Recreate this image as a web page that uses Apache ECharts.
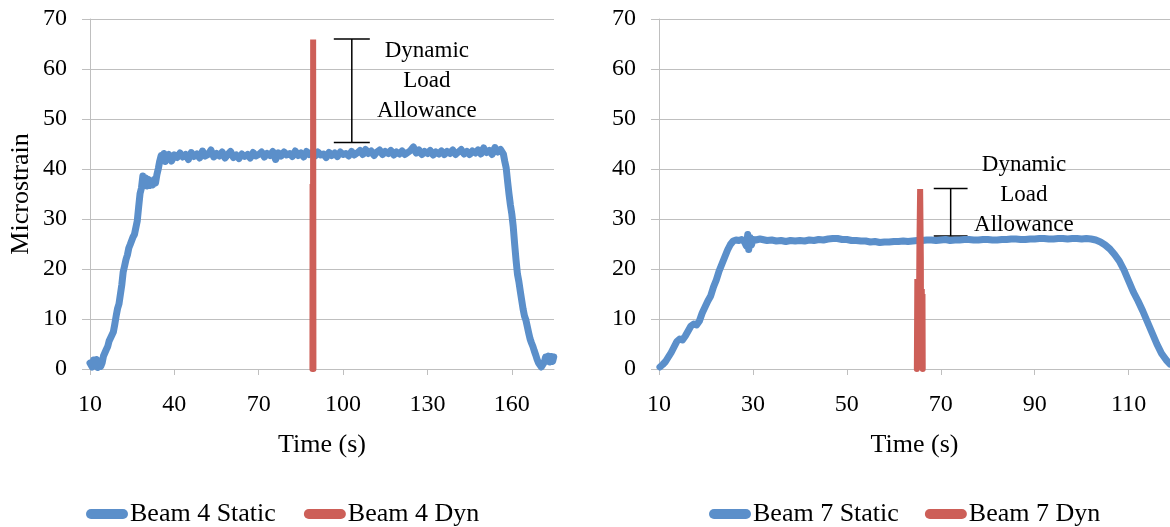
<!DOCTYPE html>
<html>
<head>
<meta charset="utf-8">
<script src="https://cdn.jsdelivr.net/npm/echarts@6/dist/echarts.min.js"></script>
<style>
  html, body { margin: 0; padding: 0; background: #fff; }
  #chart { width: 1170px; height: 527px; }
</style>
</head>
<body>
<div id="chart"></div>
<script>
// time (s), microstrain
var beam4Static = [
  [10.0, 1.2], [10.3, 1.5], [10.8, 0.4], [11.3, 1.8], [11.8, 0.6], [12.3, 1.9], [12.8, 0.3], [13.3, 1.6],
  [13.8, 0.5], [14.3, 1.2], [14.8, 2.6], [15.3, 2.2], [15.8, 3.9], [16.3, 4.5], [16.8, 5.6], [17.3, 6.2],
  [17.8, 6.8], [18.3, 7.4], [18.8, 8.9], [19.3, 10.6], [19.8, 12.1], [20.3, 13.0], [20.8, 14.9], [21.3, 16.8],
  [21.8, 19.4], [22.3, 20.6], [22.8, 21.9], [23.3, 22.8], [23.8, 24.2], [24.3, 24.9], [24.8, 25.3], [25.3, 26.4],
  [25.8, 26.9], [26.3, 27.3], [26.8, 29.6], [27.3, 32.4], [27.8, 35.1], [28.3, 36.2], [28.8, 38.6], [29.3, 37.0],
  [29.8, 38.2], [30.3, 36.6], [30.8, 37.9], [31.3, 36.7], [31.8, 37.6], [32.3, 36.8], [32.8, 37.9], [33.3, 37.2],
  [33.8, 38.9], [34.3, 40.1], [34.8, 41.6], [35.3, 42.7], [35.8, 41.8], [36.3, 43.1], [36.8, 41.5],
  [37, 42.2], [38, 42.9], [39, 41.6], [40, 42.8], [41, 42.3], [42, 43.2], [43, 42.4], [44, 42.9], [45, 41.9],
  [46, 43.3], [47, 42.5], [48, 43.0], [49, 42.2], [50, 43.6], [51, 42.6], [52, 42.9], [53, 43.8], [54, 42.4],
  [55, 43.1], [56, 42.6], [57, 43.4], [58, 42.2], [59, 42.9], [60, 43.5], [61, 42.3], [62, 42.8], [63, 42.1],
  [64, 43.0], [65, 42.5], [66, 42.9], [67, 42.2], [68, 43.3], [69, 42.6], [70, 42.9], [71, 43.4], [72, 42.4],
  [73, 43.1], [74, 42.7], [75, 43.5], [76, 41.9], [77, 43.2], [78, 42.6], [79, 43.4], [80, 42.8], [81, 43.1],
  [82, 42.5], [83, 43.6], [84, 42.7], [85, 43.2], [86, 42.4], [87, 43.5], [88, 42.9], [89, 43.3], [90, 42.6],
  [91, 43.4], [92, 42.8], [93, 43.0], [94, 42.3], [95, 43.3], [96, 42.7], [97, 43.2], [98, 42.5], [99, 43.4],
  [100, 42.9], [101, 43.1], [102, 42.6], [103, 43.5], [104, 42.8], [105, 43.2], [106, 43.7], [107, 42.9],
  [108, 43.9], [109, 43.1], [110, 43.6], [111, 42.7], [112, 43.4], [113, 43.8], [114, 42.9], [115, 43.5],
  [116, 43.1], [117, 43.7], [118, 42.8], [119, 43.4], [120, 43.0], [121, 43.6], [122, 42.9], [123, 43.3],
  [124, 43.7], [125, 44.4], [126, 43.2], [127, 43.8], [128, 42.9], [129, 43.5], [130, 43.1], [131, 43.7],
  [132, 42.8], [133, 43.4], [134, 43.0], [135, 43.6], [136, 42.9], [137, 43.5], [138, 43.1], [139, 43.8],
  [140, 42.9], [141, 43.4], [142, 43.9], [143, 43.0], [144, 43.5], [145, 42.9], [146, 43.6], [147, 43.2],
  [148, 43.8], [149, 43.0], [150, 44.2], [151, 43.3], [152, 43.7], [153, 42.9], [154, 44.3], [155, 43.4],
  [156, 43.9], [156.5, 43.8], [157, 43.0], [157.5, 41.5], [158, 40.2], [158.5, 37.5], [159, 35.0], [159.5, 32.8],
  [160, 31.0], [160.5, 28.5], [161, 25.0], [161.5, 21.8], [162, 19.0], [162.5, 17.5], [163, 15.6], [163.5, 13.8],
  [164, 12.0], [164.5, 10.6], [165, 9.8], [165.5, 8.5], [166, 7.2], [166.5, 6.0], [167, 5.2], [167.5, 4.5],
  [168, 3.6], [168.5, 2.8], [169, 1.9], [169.5, 1.2], [170, 0.9], [170.5, 0.4], [171, 0.6], [171.5, 1.3],
  [172, 2.4], [172.5, 1.6], [173, 2.6], [173.5, 1.4], [174, 2.5], [174.5, 1.5], [174.9, 2.4]
];
var beam4Dyn = [[89.1, 0], [89.15, 37], [89.2, 2], [89.25, 20], [89.3, 1], [89.35, 65.9], [89.45, 0]];

var beam7Static = [
  [10.2, 0.4], [10.8, 0.9], [11.4, 1.5], [12.0, 2.4], [12.6, 3.3], [13.2, 4.4], [13.8, 5.5], [14.4, 6.0],
  [15.0, 5.8], [15.6, 6.6], [16.2, 7.6], [16.8, 8.6], [17.4, 9.0], [18.0, 8.8], [18.6, 9.6], [19.2, 11.2],
  [19.8, 12.4], [20.4, 13.6], [21.0, 14.6], [21.6, 16.4], [22.2, 17.8], [22.8, 19.6], [23.4, 21.0], [24.0, 22.4],
  [24.6, 23.8], [25.2, 24.9], [25.8, 25.6], [26.4, 25.8], [27.0, 25.7], [27.6, 25.9], [28.2, 25.4], [28.6, 24.6],
  [28.9, 26.9], [29.1, 23.9], [29.4, 26.3], [29.7, 24.8], [30.0, 25.9], [30.6, 25.8], [31.5, 26.0],
  [32, 25.9], [33, 25.7], [34, 25.8], [35, 25.6], [36, 25.7], [37, 25.5], [38, 25.7], [39, 25.6], [40, 25.7],
  [41, 25.6], [42, 25.8], [43, 25.7], [44, 25.9], [45, 25.8], [46, 26.0], [47, 26.1], [48, 26.1], [49, 25.9],
  [50, 25.9], [51, 25.7], [52, 25.7], [53, 25.6], [54, 25.6], [55, 25.4], [56, 25.5], [57, 25.3], [58, 25.4],
  [59, 25.4], [60, 25.5], [61, 25.5], [62, 25.6], [63, 25.5], [64, 25.6], [65, 25.7], [66, 25.7], [67, 25.8],
  [68, 25.8], [69, 25.7], [70, 25.8], [71, 25.9], [72, 25.7], [73, 25.8], [74, 25.8], [75, 25.9], [76, 25.9],
  [77, 25.8], [78, 25.8], [79, 25.9], [80, 25.9], [81, 25.8], [82, 25.8], [83, 25.9], [84, 25.9], [85, 26.0],
  [86, 26.0], [87, 25.9], [88, 25.9], [89, 26.0], [90, 26.0], [91, 26.1], [92, 26.1], [93, 26.0], [94, 26.0],
  [95, 26.1], [96, 26.1], [97, 26.0], [98, 26.1], [99, 26.1], [100, 26.0], [101, 26.1], [102, 26.0], [103, 25.8],
  [104, 25.4], [105, 24.8], [106, 24.0], [107, 22.9], [108, 21.6], [109, 19.8], [110, 17.6], [111, 15.4],
  [112, 13.6], [113, 11.6], [114, 9.4], [115, 7.2], [116, 5.0], [117, 3.1], [118, 1.8], [118.8, 1.0]
];
var beam7Dyn = [
  [64.9, 0], [65.0, 18], [65.05, 1], [65.1, 17], [65.2, 2], [65.25, 17], [65.3, 4], [65.45, 25], [65.6, 36],
  [65.75, 22], [65.8, 2], [65.85, 16], [65.9, 3], [65.95, 16], [66.05, 1], [66.1, 15], [66.15, 0]
];

// bracket: x, low, high, cap half-width ; label: x, y
var beam4Bracket = [[103.1, 45.3, 66.0, 6.4]];
var beam4Note = [[129.8, 57.7]];
var beam7Bracket = [[72.1, 26.6, 36.1, 3.6]];
var beam7Note = [[87.7, 34.9]];
var noteText = 'Dynamic\nLoad\nAllowance';

var beam4Ticks = [10, 40, 70, 100, 130, 160];
var beam7Ticks = [10, 30, 50, 70, 90, 110];

var blue = '#5B8FCA';
var red = '#CD5F58';
var gray = '#BFBFBF';
var font = '"Liberation Serif", "Times New Roman", serif';

var chart = echarts.init(document.getElementById('chart'));

function bracketItem(params, api) {
  var x = api.value(0), lo = api.value(1), hi = api.value(2), w = api.value(3);
  var a = api.coord([x, lo]), b = api.coord([x, hi]);
  var l1 = api.coord([x - w, lo]), r1 = api.coord([x + w, lo]);
  var l2 = api.coord([x - w, hi]), r2 = api.coord([x + w, hi]);
  var st = { stroke: '#000', lineWidth: 1.5 };
  return {
    type: 'group',
    children: [
      { type: 'line', shape: { x1: a[0], y1: a[1], x2: b[0], y2: b[1] }, style: st },
      { type: 'line', shape: { x1: l1[0], y1: l1[1], x2: r1[0], y2: r1[1] }, style: st },
      { type: 'line', shape: { x1: l2[0], y1: l2[1], x2: r2[0], y2: r2[1] }, style: st }
    ]
  };
}

function noteItem(params, api) {
  var p = api.coord([api.value(0), api.value(1)]);
  return {
    type: 'text',
    x: p[0],
    y: p[1],
    style: {
      text: noteText,
      fill: '#000',
      font: '23px ' + font,
      lineHeight: 30,
      align: 'center',
      verticalAlign: 'middle'
    }
  };
}

function xAxisFor(idx, min, max, ticks) {
  return {
    type: 'value',
    gridIndex: idx,
    min: min,
    max: max,
    name: 'Time (s)',
    nameLocation: 'middle',
    nameGap: 63,
    nameTextStyle: { fontFamily: font, fontSize: 26, color: '#000' },
    axisLine: { show: true, lineStyle: { color: gray, width: 1 } },
    axisTick: { show: true, length: 6, customValues: ticks, lineStyle: { color: gray } },
    axisLabel: { customValues: ticks, margin: 24, fontFamily: font, fontSize: 24, color: '#000' },
    splitLine: { show: false }
  };
}

function yAxisFor(idx, withName) {
  return {
    type: 'value',
    gridIndex: idx,
    min: 0,
    max: 70,
    interval: 10,
    name: withName ? 'Microstrain' : '',
    nameLocation: 'middle',
    nameGap: 56,
    nameTextStyle: { fontFamily: font, fontSize: 26, color: '#000' },
    axisLine: { show: true, lineStyle: { color: gray, width: 1 } },
    axisTick: { show: true, length: 8, lineStyle: { color: gray } },
    axisLabel: { margin: 23, fontFamily: font, fontSize: 24, color: '#000' },
    splitLine: { show: true, lineStyle: { color: gray, width: 1 } }
  };
}

var legendIcon = 'path://M5,0 L37,0 A5,5 0 0 1 37,10 L5,10 A5,5 0 0 1 5,0 Z';

var option = {
  animation: false,
  backgroundColor: '#fff',
  grid: [
    { left: 90, top: 19, width: 464, height: 350 },
    { left: 659, top: 19, width: 511, height: 350 }
  ],
  xAxis: [xAxisFor(0, 10, 175, beam4Ticks), xAxisFor(1, 10, 118.8, beam7Ticks)],
  yAxis: [yAxisFor(0, true), yAxisFor(1, false)],
  legend: [
    {
      left: 86, top: 501, padding: 0, itemWidth: 42, itemHeight: 10, itemGap: 28,
      textStyle: { fontFamily: font, fontSize: 26, color: '#000', padding: [0, 0, 0, -3] },
      data: [{ name: 'Beam 4 Static', icon: legendIcon }, { name: 'Beam 4 Dyn', icon: legendIcon }]
    },
    {
      left: 709, top: 501, padding: 0, itemWidth: 42, itemHeight: 10, itemGap: 26,
      textStyle: { fontFamily: font, fontSize: 26, color: '#000', padding: [0, 0, 0, -3] },
      data: [{ name: 'Beam 7 Static', icon: legendIcon }, { name: 'Beam 7 Dyn', icon: legendIcon }]
    }
  ],
  series: [
    { name: 'Beam 4 Static', type: 'line', xAxisIndex: 0, yAxisIndex: 0, data: beam4Static,
      showSymbol: false, color: blue, lineStyle: { width: 7, color: blue, join: 'round', cap: 'round' } },
    { name: 'Beam 4 Dyn', type: 'line', xAxisIndex: 0, yAxisIndex: 0, data: beam4Dyn,
      showSymbol: false, color: red, lineStyle: { width: 6, color: red, cap: 'round' } },
    { name: 'Beam 7 Static', type: 'line', xAxisIndex: 1, yAxisIndex: 1, data: beam7Static,
      showSymbol: false, color: blue, lineStyle: { width: 7, color: blue, join: 'round', cap: 'round' } },
    { name: 'Beam 7 Dyn', type: 'line', xAxisIndex: 1, yAxisIndex: 1, data: beam7Dyn,
      showSymbol: false, color: red, lineStyle: { width: 6, color: red, cap: 'round' } },
    { type: 'custom', xAxisIndex: 0, yAxisIndex: 0, data: beam4Bracket, renderItem: bracketItem, clip: false, silent: true },
    { type: 'custom', xAxisIndex: 0, yAxisIndex: 0, data: beam4Note, renderItem: noteItem, clip: false, silent: true },
    { type: 'custom', xAxisIndex: 1, yAxisIndex: 1, data: beam7Bracket, renderItem: bracketItem, clip: false, silent: true },
    { type: 'custom', xAxisIndex: 1, yAxisIndex: 1, data: beam7Note, renderItem: noteItem, clip: false, silent: true }
  ]
};

chart.setOption(option);
</script>
</body>
</html>
